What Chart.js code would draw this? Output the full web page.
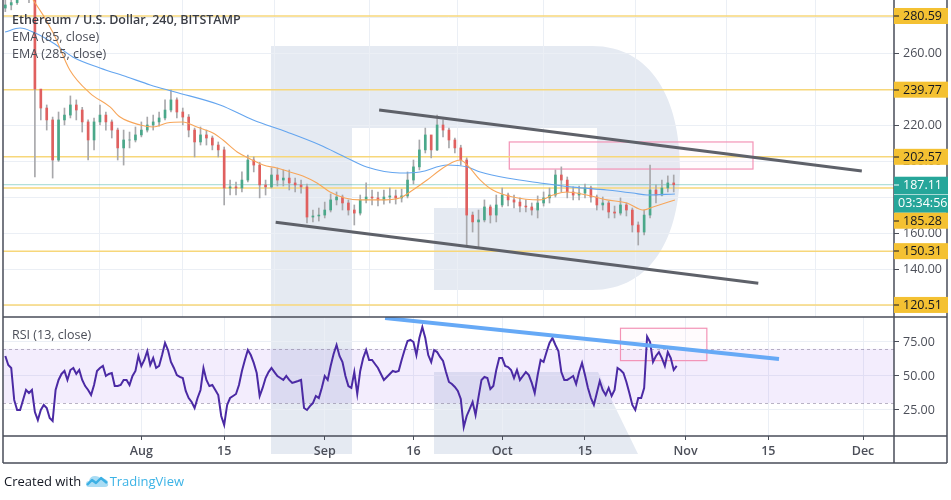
<!DOCTYPE html>
<html><head><meta charset="utf-8">
<script src="https://cdn.jsdelivr.net/npm/chart.js@4.4.1/dist/chart.umd.min.js"></script>
<style>
html,body{margin:0;padding:0;background:#fff;}
#wrap{position:relative;width:951px;height:500px;overflow:hidden;font-family:"Open Sans",sans-serif;}
#wrap canvas{position:absolute;left:0;}
.t{position:absolute;white-space:nowrap;color:#4b4e58;font-size:12.5px;line-height:17px;}
</style></head><body>
<div id="wrap">
<canvas id="wm" width="951" height="500" style="top:0"></canvas>
<canvas id="pc" width="951" height="318" style="top:0"></canvas>
<canvas id="rc" width="951" height="150" style="top:317px"></canvas>
<canvas id="ov" width="951" height="500" style="top:0"></canvas>
<div class="t" style="left:12px;top:11px;font-weight:600;color:#3a3d46">Ethereum / U.S. Dollar, 240, BITSTAMP</div>
<div class="t" style="left:12px;top:28px">EMA (85, close)</div>
<div class="t" style="left:12px;top:45px">EMA (285, close)</div>
<div class="t" style="left:12px;top:326px">RSI (13, close)</div>
<div class="t" style="left:4px;top:473px;font-size:13px;color:#131722">Created with <svg width="23" height="14" viewBox="0 0 23 14" style="vertical-align:-2px;margin:0 1px"><path d="M3 13 Q0 13 0 10 Q0 7 3 7 Q4 2 9 2 Q13 2 15 5 Q17 4 19 5 Q22 6 22 9 Q23 13 19 13 Z" fill="#a9dcf4"/><polyline points="1,11 6,6 10,9 15,4 21,9" fill="none" stroke="#3cb0e4" stroke-width="2.4" stroke-linejoin="round"/></svg><span style="color:#3cb3e6">TradingView</span></div>
</div>
<script>
// ---------- data (days counted from 1 July) ----------
const candleDays = [8,9,10,11,12,13,14,15,16,17,18,19,20,21,22,23,24,25,26,27,28,29,30,31,32,33,34,35,36,37,38,39,40,41,42,43,44,45,46,47,48,49,50,51,52,53,54,55,56,57,58,59,60,61,62,63,64,65,66,67,68,69,70,71,72,73,74,75,76,77,78,79,80,81,82,83,84,85,86,87,88,89,90,91,92,93,94,95,96,97,98,99,100,101,102,103,104,105,106,107,108,109,110,111,112,113,114,115,116,117,118,119,120,121];
const firstOpen = 285;
const closes = [286.7,288,292,294,292,240.1,229.6,223.0,200.8,223.0,225.7,231.3,228.5,221.9,211.9,221.9,225.7,221.9,217.4,207.5,211.9,211.9,214.7,217.4,220.2,221.9,224.1,228.5,234.1,227.4,224.6,217.4,210.8,214.7,213.0,209.1,206.4,185.3,185.9,185.3,189.7,200.8,198.0,187.0,185.9,192.5,189.7,190.8,188.1,187.0,185.9,169.2,169.8,170.3,173.1,178.7,180.3,177.0,173.1,171.4,178.7,180.3,179.8,178.7,180.3,180.9,179.8,180.9,189.7,197.0,206.4,214.7,206.4,220.2,217.4,211.9,207.5,200.8,170.3,166.5,167.6,174.8,170.3,175.9,181.4,178.7,177.5,175.3,174.8,173.1,177.0,179.8,181.4,192.5,189.7,183.1,181.4,182.5,185.3,180.3,175.9,177.0,172.0,171.4,175.9,173.1,164.8,160.9,170.3,184.2,181.4,185.3,188.1,187.11];
const highs = [292,291,296,298,297,295,235.7,231.3,224.6,227.4,229.6,236.3,234.1,230.0,223.0,224.1,231.3,227.4,223.0,218.5,217.4,216.3,219.1,221.9,224.6,225.7,227.4,234.1,239.6,235.2,229.6,226.0,218.5,219.1,217.4,214.1,210.8,208.0,189.7,188.6,194.2,203.6,202.5,199.5,189.7,196.4,196.4,195.3,195.3,190.8,189.7,187.5,173.1,174.2,177.5,182.0,183.1,181.4,178.7,175.9,181.4,188.1,184.2,183.1,184.2,185.3,184.2,184.7,194.2,200.8,211.9,218.5,211.9,225.7,223.0,218.5,213.0,209.0,202.0,172.0,173.1,178.7,175.9,181.4,185.3,182.5,181.4,179.8,178.7,177.0,180.9,183.1,185.3,195.3,197.0,191.4,185.9,186.4,187.5,186.4,181.4,180.3,178.1,175.3,179.8,177.0,174.2,166.5,173.1,198.0,187.0,189.7,192.0,192.5];
const lows = [283,284,287,290,288,191.4,223.0,217.4,190.8,200.0,220.2,224.1,223.0,216.3,200.8,206.4,220.2,217.4,213.0,200.8,198.0,207.5,210.8,213.6,216.3,217.4,219.6,223.0,227.4,224.1,220.2,213.6,202.5,209.1,209.1,206.4,202.5,175.9,181.4,181.4,183.1,188.6,194.2,179.8,181.4,185.3,186.4,186.4,184.2,183.1,182.5,165.9,166.5,167.0,168.7,172.0,175.9,173.1,170.3,164.8,170.3,177.0,175.9,175.3,176.4,177.0,176.4,177.5,179.8,187.5,195.3,204.7,202.0,206.0,213.6,207.5,204.7,198.0,152.6,160.9,152.6,166.5,165.9,166.5,174.8,175.3,174.2,172.0,172.0,170.3,168.7,175.3,177.0,180.3,183.1,179.8,178.7,178.7,179.8,177.5,173.1,173.1,168.7,168.7,170.3,169.8,160.9,153.7,159.3,168.7,177.0,180.9,183.1,183.1];

const ema85Days = [7.95,10.5,12.7,16.1,18.9,22.3,25.7,27.4,30.8,33.0,35.3,38.0,40.4,43.1,44.8,47.2,49.4,51.6,53.9,56.1,58.3,60.7,62.9,65.4,68.0,71.3,74.7,76.9,79.3,81.5,83.7,84.9,86.1,88.3,90.4,93.8,98.4,100.6,102.9,106.3,109.7,113.1,115.8,117.5,121.2];
const ema85 = [308.8,297.8,289.5,271.2,250.7,237.9,230.2,224.6,220.2,219.1,221.3,221.9,219.1,215.8,211.9,205.2,201.4,198.0,196.4,194.2,192.0,188.1,183.1,179.8,178.7,178.7,179.8,184.2,189.7,195.3,199.7,200.8,198.0,189.7,184.2,180.3,178.7,181.4,183.1,181.4,178.7,177.0,173.1,174.8,178.7];
const ema285Days = [7.95,10.5,12.7,16.1,19.4,24.0,28.6,32.5,36.7,44.3,49.9,55.6,61.2,65.4,69.1,74.7,78.1,82.7,86.1,88.3,92.8,98.4,104.0,109.7,114.1,116.5,121.2];
const ema285 = [271.7,273.9,271.7,265.6,257.9,251.8,246.8,242.4,238.5,231.3,223.0,216.3,209.1,202.5,196.9,193.6,194.2,198.0,196.9,194.2,190.8,188.1,185.8,184.2,182.5,181.4,182.0];

const rsiStartDay = 8, rsiStepDays = 0.5; // one reading every 12 hours
const rsi = [64.7,58.1,55.9,32.4,25.0,25.0,32.4,39.7,37.5,39.7,
23.5,17.6,25.0,28.7,26.5,19.1,16.9,39.7,47.1,51.5,
53.7,47.1,54.4,55.9,51.5,54.4,47.1,42.6,39.7,36.0,
43.4,53.7,55.9,57.4,50.0,51.5,52.2,42.6,42.6,43.4,
47.1,47.1,43.4,50.0,53.7,64.7,57.4,61.8,68.4,58.1,
63.2,55.9,57.4,65.4,74.3,69.1,60.3,55.9,50.7,49.3,
48.5,39.0,33.8,30.9,26.5,33.8,39.7,55.9,47.1,42.6,
43.4,39.7,36.0,20.6,14.0,28.7,33.8,35.3,36.8,43.4,
53.7,61.8,69.1,65.4,59.6,52.2,35.3,41.2,48.5,52.9,
55.9,52.9,50.0,48.5,47.1,50.0,47.1,44.9,45.6,46.3,
47.1,26.5,25.0,27.9,30.1,35.3,33.8,41.2,50.0,47.1,
57.4,66.2,72.8,64.7,60.3,50.0,42.6,41.2,52.9,36.8,
53.7,63.2,69.1,61.8,61.8,58.8,55.9,51.5,47.1,49.3,
51.5,53.7,52.9,53.7,61.8,69.1,75.7,76.5,75.0,65.4,
77.9,86.0,77.9,65.4,60.3,69.1,67.6,64.0,61.0,52.9,
45.6,44.1,41.9,39.0,33.1,12.5,20.6,25.7,30.9,21.3,
34.6,47.1,49.3,48.5,40.4,42.6,54.4,63.2,63.2,57.4,
56.6,54.4,48.5,54.4,47.1,50.0,52.9,50.7,44.9,37.5,
50.7,61.8,60.3,67.6,74.3,77.9,72.8,68.4,52.9,47.1,
47.1,48.5,50.0,44.1,52.9,59.6,50.7,41.2,33.8,28.7,
37.5,46.3,39.7,36.0,41.2,35.3,39.7,55.9,54.4,52.2,
45.6,37.5,28.7,25.0,33.8,33.8,41.2,79.0,75.0,60.3,
64.7,67.6,63.2,57.4,67.6,63.2,54.4,57.4];

const levels = [280.59, 239.77, 202.57, 185.28, 150.31, 120.51];
const lastPrice = 187.11;
const countdown = '03:34:56';
const upperChannelDays = [71.2, 152.8], upperChannelValues = [228.5, 194.7];
const lowerChannelDays = [53.7, 135.3], lowerChannelValues = [166.3, 132.5];
const priceBoxDays = [93.2, 134.4], priceBoxValues = [210.8, 195.8];
const rsiTrendDays = [72.2, 138.8], rsiTrendValues = [92.6, 62.5];
const rsiBoxDays = [112.0, 126.6], rsiBoxValues = [85.1, 61.3];
const rsiBand = [30, 70];

const tickDays = [31, 45, 62, 77, 92, 106, 123, 137, 153];
const tickLabels = ['Aug', '15', 'Sep', '16', 'Oct', '15', 'Nov', '15', 'Dec'];
const priceTicks = [120, 140, 160, 180, 200, 220, 240, 260, 280];
const rsiTicks = [25, 50, 75];

const xMin = 7.608, xMax = 158.24;
const priceMin = 113.83, priceMax = 289.45;
const rsiMin = 5.88, rsiMax = 93.38;

// ---------- watermark ----------
(function(){
  const w = document.getElementById('wm').getContext('2d');
  w.fillStyle = '#e5eaf2';
  w.fillRect(271, 46, 81, 408);
  w.beginPath();
  w.moveTo(352, 46); w.lineTo(592, 46);
  w.bezierCurveTo(652, 46, 680, 100, 680, 168);
  w.bezierCurveTo(680, 236, 652, 290, 592, 290);
  w.lineTo(434, 290); w.lineTo(434, 208); w.lineTo(597, 208); w.lineTo(597, 128); w.lineTo(352, 128);
  w.closePath(); w.fill();
  w.beginPath();
  w.moveTo(434, 372); w.lineTo(598, 372); w.lineTo(638, 454); w.lineTo(434, 454);
  w.closePath(); w.fill();
})();

// ---------- charts ----------
Chart.defaults.font.family = "'Open Sans', sans-serif";
const gridColor = '#ebeff5';
const axisInk = '#4a4e59';

const opens = closes.map((c, i) => i === 0 ? firstOpen : closes[i - 1]);
const bodyColors = closes.map((c, i) => c >= opens[i] ? '#4aa88a' : '#e0605f');

function pts(days, vals){ return days.map((d, i) => ({x: d, y: vals[i]})); }

function boxPlugin(id, days, vals){
  return {
    id,
    beforeDatasetsDraw(chart){
      const {ctx, scales:{x, y}} = chart;
      const x1 = x.getPixelForValue(days[0]), x2 = x.getPixelForValue(days[1]);
      const y1 = y.getPixelForValue(vals[0]), y2 = y.getPixelForValue(vals[1]);
      ctx.save();
      ctx.fillStyle = 'rgba(255,220,232,0.10)';
      ctx.fillRect(x1, y1, x2 - x1, y2 - y1);
      ctx.strokeStyle = '#f393b6'; ctx.lineWidth = 1.2;
      ctx.strokeRect(x1, y1, x2 - x1, y2 - y1);
      ctx.restore();
    }
  };
}

const levelSets = levels.map(v => ({
  type: 'line', data: pts([xMin, xMax], [v, v]), borderColor: '#f7d77a', borderWidth: 1.5,
  pointRadius: 0, order: 6
}));

const priceChart = new Chart(document.getElementById('pc'), {
  type: 'bar',
  data: { datasets: [
    { type:'line', label:'Channel top', data: pts(upperChannelDays, upperChannelValues), borderColor:'#5e6169', borderWidth:3, pointRadius:0, order:0 },
    { type:'line', label:'Channel bottom', data: pts(lowerChannelDays, lowerChannelValues), borderColor:'#5e6169', borderWidth:3, pointRadius:0, order:0 },
    { type:'line', label:'EMA (85, close)', data: pts(ema85Days, ema85), borderColor:'#f7a65a', borderWidth:1.1, pointRadius:0, cubicInterpolationMode:'monotone', order:1 },
    { type:'line', label:'EMA (285, close)', data: pts(ema285Days, ema285), borderColor:'#64a5ef', borderWidth:1.1, pointRadius:0, cubicInterpolationMode:'monotone', order:2 },
    { type:'line', label:'Last', data: pts([xMin, xMax], [lastPrice, lastPrice]), borderColor:'rgba(38,166,154,0.45)', borderWidth:1, pointRadius:0, order:5 },
    { type:'bar', label:'Bodies', data: candleDays.map((d, i) => ({x: d, y: [opens[i], closes[i]]})), backgroundColor: bodyColors, barThickness: 2, grouped:false, order:3 },
    { type:'bar', label:'Wicks', data: candleDays.map((d, i) => ({x: d, y: [lows[i], highs[i]]})), backgroundColor: '#a8a8ab', barThickness: 1, grouped:false, order:4 },
    ...levelSets
  ]},
  options: {
    responsive:false, animation:false, events:[],
    layout:{ padding:{ left:3, top:0, right:0, bottom:0 } },
    plugins:{ legend:{display:false}, tooltip:{enabled:false} },
    scales:{
      x:{ type:'linear', min:xMin, max:xMax, offset:false,
          grid:{ color:gridColor, drawTicks:false }, border:{display:false}, ticks:{display:false},
          afterBuildTicks: s => { s.ticks = tickDays.map(v => ({value:v})); },
          afterFit: s => { s.height = 1; s.paddingLeft = 0; s.paddingRight = 0; } },
      y:{ position:'right', min:priceMin, max:priceMax,
          grid:{ color:gridColor, tickColor:axisInk, tickLength:5 }, border:{display:false},
          ticks:{ color:'#4c4f59', padding:4, font:{size:12.5}, callback: v => Number(v).toFixed(2) },
          afterBuildTicks: s => { s.ticks = priceTicks.map(v => ({value:v})); },
          afterFit: s => { s.width = 57; s.paddingTop = 0; s.paddingBottom = 0; } }
    }
  },
  plugins:[ boxPlugin('pbox', priceBoxDays, priceBoxValues) ]
});

const bandPlugin = {
  id:'band',
  beforeDatasetsDraw(chart){
    const {ctx, chartArea:a, scales:{y}} = chart;
    const yHi = y.getPixelForValue(rsiBand[1]), yLo = y.getPixelForValue(rsiBand[0]);
    ctx.save();
    ctx.fillStyle = 'rgba(150,88,235,0.11)';
    ctx.fillRect(a.left, yHi, a.right - a.left, yLo - yHi);
    ctx.setLineDash([3,3]); ctx.strokeStyle = 'rgba(130,120,150,0.55)'; ctx.lineWidth = 1;
    ctx.beginPath(); ctx.moveTo(a.left, Math.round(yHi)+0.5); ctx.lineTo(a.right, Math.round(yHi)+0.5);
    ctx.moveTo(a.left, Math.round(yLo)+0.5); ctx.lineTo(a.right, Math.round(yLo)+0.5); ctx.stroke();
    ctx.restore();
  }
};

const rsiChart = new Chart(document.getElementById('rc'), {
  type:'line',
  data:{ datasets:[
    { label:'RSI trend', data: pts(rsiTrendDays, rsiTrendValues), borderColor:'#66a9f6', borderWidth:4, pointRadius:0, order:0 },
    { label:'RSI (13, close)', data: rsi.map((v, i) => ({x: rsiStartDay + i * rsiStepDays, y: v})), borderColor:'#4b2aa4', borderWidth:2, pointRadius:0, tension:0, order:1 }
  ]},
  options:{
    responsive:false, animation:false, events:[],
    layout:{ padding:{ left:3, top:0, right:0, bottom:0 } },
    plugins:{ legend:{display:false}, tooltip:{enabled:false} },
    scales:{
      x:{ type:'linear', min:xMin, max:xMax, offset:false,
          grid:{ color:gridColor, tickColor:axisInk, tickLength:4 }, border:{display:false},
          ticks:{ color:'#4c4f59', padding:4, autoSkip:false, maxRotation:0, font:{size:12.5, weight:'600'},
                  callback: (v, i) => tickLabels[i] },
          afterBuildTicks: s => { s.ticks = tickDays.map(v => ({value:v})); },
          afterFit: s => { s.height = 31; s.paddingLeft = 0; s.paddingRight = 0; } },
      y:{ position:'right', min:rsiMin, max:rsiMax,
          grid:{ color:gridColor, tickColor:axisInk, tickLength:5 }, border:{display:false},
          ticks:{ color:'#4c4f59', padding:4, font:{size:12.5}, callback: v => Number(v).toFixed(2) },
          afterBuildTicks: s => { s.ticks = rsiTicks.map(v => ({value:v})); },
          afterFit: s => { s.width = 57; s.paddingTop = 0; s.paddingBottom = 0; } }
    }
  },
  plugins:[ bandPlugin, boxPlugin('rbox', rsiBoxDays, rsiBoxValues) ]
});

// ---------- frame and price labels ----------
(function(){
  const c = document.getElementById('ov').getContext('2d');
  c.strokeStyle = axisInk; c.lineWidth = 1.5;
  c.beginPath();
  c.moveTo(3, 0); c.lineTo(3, 463);
  c.moveTo(947, 0); c.lineTo(947, 463);
  c.moveTo(894, 0); c.lineTo(894, 463);
  c.moveTo(3, 317); c.lineTo(947, 317);
  c.moveTo(3, 436); c.lineTo(947, 436);
  c.moveTo(3, 463); c.lineTo(947, 463);
  c.stroke();

  const ys = priceChart.scales.y;
  const boxes = levels.map(v => ({v, kind:'level'})).concat([{v:lastPrice, kind:'last'}])
    .map(b => Object.assign(b, {c: ys.getPixelForValue(b.v)}))
    .sort((a, b) => a.c - b.c);
  let prevBottom = -1e9;
  c.font = "12.5px 'Open Sans', sans-serif";
  c.textBaseline = 'middle';
  for (const b of boxes){
    const h = b.kind === 'last' ? 36 : 16;
    let top = b.c - 8;
    if (top < prevBottom) top = prevBottom;
    prevBottom = top + h;
    c.fillStyle = b.kind === 'last' ? '#26a69a' : '#f4c132';
    c.fillRect(894, top, 54, h);
    const ink = b.kind === 'last' ? '#ffffff' : '#131722';
    c.fillStyle = ink;
    c.fillRect(894, Math.round(top + 8) - 0.5, 5, 1);
    c.fillText(b.v.toFixed(2), 903, top + 8.5);
    if (b.kind === 'last'){
      c.fillStyle = 'rgba(255,255,255,0.6)';
      c.fillRect(894, Math.round(top + 17), 54, 1);
      c.fillStyle = ink;
      c.fillText(countdown, 898, top + 27);
    }
  }
})();
</script>
</body></html>
